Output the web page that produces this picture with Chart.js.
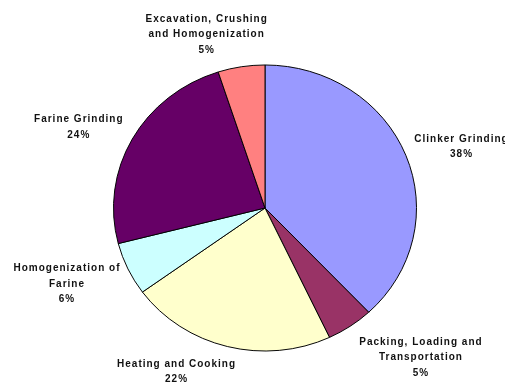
<!DOCTYPE html>
<html>
<head>
<meta charset="utf-8">
<script src="https://cdn.jsdelivr.net/npm/chart.js@4"></script>
<style>
  html, body { margin: 0; padding: 0; background: #fff; }
  #energyPie { display: block; }
</style>
</head>
<body>
<canvas id="energyPie" width="505" height="383"></canvas>
<script>
// Energy use by production step (%)
const categories = [
  'Clinker Grinding',
  'Packing, Loading and Transportation',
  'Heating and Cooking',
  'Homogenization of Farine',
  'Farine Grinding',
  'Excavation, Crushing and Homogenization'
];
const shares = [38, 5, 22, 6, 24, 5];
// how each category name is wrapped in its label
const labelLines = [
  ['Clinker Grinding'],
  ['Packing, Loading and', 'Transportation'],
  ['Heating and Cooking'],
  ['Homogenization of', 'Farine'],
  ['Farine Grinding'],
  ['Excavation, Crushing', 'and Homogenization']
];
const sliceColors = ['#9999FF', '#993366', '#FFFFCC', '#CCFFFF', '#660066', '#FF8080'];

// pie is drawn slightly flattened, like the old spreadsheet chart
const FLATTEN = 0.944;

const flattenPlugin = {
  id: 'flatten',
  beforeDatasetsDraw(chart) {
    const arc = chart.getDatasetMeta(0).data[0];
    const ctx = chart.ctx;
    ctx.save();
    ctx.translate(0, arc.y);
    ctx.scale(1, FLATTEN);
    ctx.translate(0, -arc.y);
  },
  afterDatasetsDraw(chart) {
    chart.ctx.restore();
  }
};

// small hand nudges so labels sit where they read best
const labelShift = [[2, 0], [30, 6], [-34, 3], [-4, 2], [-6, -1], [-24, -2]];

const sliceLabels = {
  id: 'sliceLabels',
  afterDraw(chart) {
    const ctx = chart.ctx;
    const values = chart.data.datasets[0].data;
    const lineH = 15.5;
    ctx.save();
    ctx.font = 'bold 10px "Liberation Sans", Arial, sans-serif';
    ctx.letterSpacing = '1px';
    ctx.fillStyle = '#111';
    ctx.textAlign = 'center';
    ctx.textBaseline = 'middle';
    chart.getDatasetMeta(0).data.forEach((arc, i) => {
      const mid = (arc.startAngle + arc.endAngle) / 2;
      const dx = Math.cos(mid), dy = Math.sin(mid);
      const gap = 10;
      const ax = arc.x + (arc.outerRadius + gap) * dx;
      const ay = arc.y + (arc.outerRadius * FLATTEN + gap) * dy;
      const lines = labelLines[i].concat([values[i] + '%']);
      let w = 0;
      lines.forEach(l => { w = Math.max(w, ctx.measureText(l).width); });
      const h = (lines.length - 1) * lineH + 10;
      const cx = ax + dx * w / 2 + labelShift[i][0];
      const cy = ay + dy * h / 2 + labelShift[i][1];
      const top = cy - (lines.length - 1) * lineH / 2;
      lines.forEach((l, k) => ctx.fillText(l, cx + 0.5, top + k * lineH));
    });
    ctx.restore();
  }
};

new Chart(document.getElementById('energyPie'), {
  type: 'pie',
  data: {
    labels: categories,
    datasets: [{
      data: shares,
      backgroundColor: sliceColors,
      borderColor: '#000',
      borderWidth: 1
    }]
  },
  options: {
    responsive: false,
    animation: false,
    layout: { padding: { left: 113, right: 88, top: 56, bottom: 23 } },
    plugins: {
      legend: { display: false },
      tooltip: { enabled: false }
    }
  },
  plugins: [flattenPlugin, sliceLabels]
});
</script>
</body>
</html>
